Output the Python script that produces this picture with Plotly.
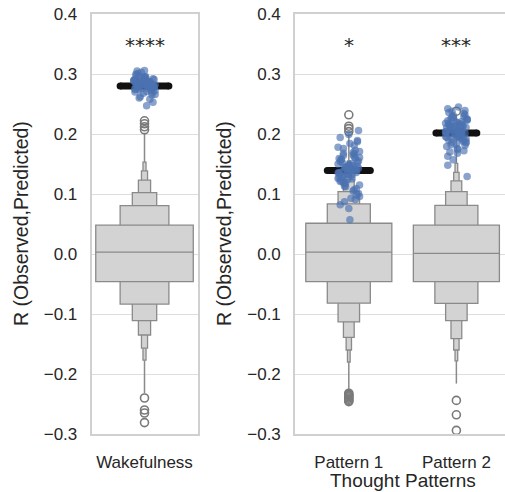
import plotly.graph_objects as go

# category positions
wake_names = ['Wakefulness']
pattern_names = ['Pattern 1', 'Pattern 2']

# observed model fits (strip points)
wake_r = [0.283, 0.279, 0.291, 0.275, 0.286, 0.270, 0.295, 0.281, 0.288, 0.277, 0.300, 0.284, 0.268, 0.292,
          0.279, 0.287, 0.274, 0.296, 0.282, 0.289, 0.271, 0.285, 0.278, 0.303, 0.280, 0.276, 0.293, 0.265,
          0.287, 0.283, 0.298, 0.273, 0.290, 0.281, 0.262, 0.286, 0.279, 0.294, 0.272, 0.288, 0.284, 0.305,
          0.277, 0.282, 0.258, 0.291, 0.285, 0.269, 0.297, 0.280, 0.283, 0.275, 0.289, 0.253, 0.286, 0.278,
          0.301, 0.282, 0.266, 0.290, 0.247, 0.284, 0.279, 0.293, 0.287, 0.274, 0.306, 0.281, 0.260, 0.288]
p1_r = [0.140, 0.128, 0.155, 0.112, 0.167, 0.135, 0.149, 0.098, 0.176, 0.142, 0.121, 0.160, 0.133, 0.187,
        0.145, 0.105, 0.152, 0.138, 0.171, 0.126, 0.093, 0.158, 0.143, 0.118, 0.181, 0.136, 0.147, 0.109,
        0.164, 0.131, 0.194, 0.141, 0.124, 0.153, 0.087, 0.169, 0.137, 0.148, 0.115, 0.178, 0.132, 0.157,
        0.101, 0.144, 0.162, 0.127, 0.199, 0.139, 0.119, 0.151, 0.082, 0.173, 0.134, 0.146, 0.113, 0.165,
        0.129, 0.184, 0.096, 0.150, 0.139, 0.122, 0.206, 0.143, 0.107, 0.159, 0.076, 0.136, 0.168, 0.125,
        0.154, 0.091, 0.141, 0.189, 0.117, 0.147, 0.130, 0.057, 0.161, 0.135]
p2_r = [0.205, 0.218, 0.192, 0.227, 0.199, 0.211, 0.183, 0.234, 0.206, 0.196, 0.222, 0.188, 0.214, 0.201,
        0.238, 0.193, 0.209, 0.176, 0.225, 0.203, 0.197, 0.216, 0.185, 0.231, 0.207, 0.194, 0.220, 0.172,
        0.212, 0.200, 0.242, 0.190, 0.208, 0.181, 0.228, 0.198, 0.215, 0.168, 0.223, 0.204, 0.195, 0.236,
        0.187, 0.210, 0.202, 0.179, 0.219, 0.191, 0.226, 0.206, 0.163, 0.213, 0.199, 0.232, 0.186, 0.217,
        0.201, 0.174, 0.224, 0.196, 0.245, 0.189, 0.211, 0.157, 0.221, 0.203, 0.194, 0.229, 0.182, 0.208,
        0.148, 0.214, 0.200, 0.239, 0.192, 0.216, 0.170, 0.205, 0.129, 0.218]

# mean of observed fits (black bars)
wake_mean = [0.280]
pattern_means = [0.139, 0.2015]

# null distribution letter values (innermost level first)
wake_lv_lo = [-0.046, -0.0835, -0.111, -0.135, -0.157, -0.177]
wake_lv_hi = [0.048, 0.0806, 0.1023, 0.123, 0.1386, 0.153]
p1_lv_lo = [-0.046, -0.082, -0.113, -0.139, -0.160, -0.180]
p1_lv_hi = [0.0513, 0.0835, 0.104, 0.124, 0.140, 0.155]
p2_lv_lo = [-0.046, -0.0824, -0.111, -0.141, -0.160, -0.178]
p2_lv_hi = [0.048, 0.081, 0.104, 0.122, 0.136, 0.151]
null_medians = [0.003, 0.003, 0.001]
null_tails = [(-0.232, 0.202), (-0.228, 0.200), (-0.216, 0.232)]
wake_outliers = [0.207, 0.212, 0.217, 0.222, -0.240, -0.260, -0.265, -0.281]
p1_outliers = [0.204, 0.209, 0.213, 0.232, -0.232, -0.234, -0.236, -0.238, -0.240, -0.242, -0.244, -0.246]
p2_outliers = [0.238, -0.244, -0.268, -0.294]

stars = ['****', '*', '***']

# jitter offsets for the strip points
jitter = [0.02, -0.07, 0.09, -0.03, 0.05, -0.09, 0.00, 0.07, -0.05, 0.03,
          -0.08, 0.06, -0.01, 0.08, -0.04, 0.04, -0.06, 0.01, 0.10, -0.10]

BLUE = '#4C72B0'
BOX_FILL = '#d3d3d3'
BOX_EDGE = '#8a8a8a'
TXT = '#262626'
FONT = 'Liberation Sans, Arial, sans-serif'

fig = go.Figure()


def add_group(xpos, lo, hi, med, tail, outliers, mean, vals, max_w, mean_w, xa, ya):
    # thin tails beyond the outermost boxes (bars are drawn below scatter, so keep them off the boxes)
    fig.add_trace(go.Scatter(x=[xpos, xpos, None, xpos, xpos], y=[tail[0], lo[-1], None, hi[-1], tail[1]],
                             mode='lines', line=dict(color=BOX_EDGE, width=1.5),
                             xaxis=xa, yaxis=ya, hoverinfo='skip'))
    # letter-value boxes, narrowest (outermost) first so wider ones sit on top
    for k in reversed(range(len(lo))):
        w = max_w / (2 ** k)
        fig.add_trace(go.Bar(x=[xpos], y=[hi[k] - lo[k]], base=[lo[k]], width=[w],
                             marker=dict(color=BOX_FILL, line=dict(color=BOX_EDGE, width=1.3)),
                             xaxis=xa, yaxis=ya, hoverinfo='skip'))
    fig.add_trace(go.Scatter(x=[xpos - max_w / 2, xpos + max_w / 2], y=[med, med], mode='lines',
                             line=dict(color=BOX_EDGE, width=1.3), xaxis=xa, yaxis=ya, hoverinfo='skip'))
    fig.add_trace(go.Scatter(x=[xpos] * len(outliers), y=outliers, mode='markers',
                             marker=dict(symbol='circle-open', size=8, color='#7a7a7a', line=dict(width=1.6)),
                             xaxis=xa, yaxis=ya, hoverinfo='skip'))
    # observed mean, round-ish ends
    fig.add_trace(go.Scatter(x=[xpos - mean_w / 2, xpos + mean_w / 2], y=[mean, mean], mode='lines+markers',
                             line=dict(color='#111111', width=7), marker=dict(color='#111111', size=7),
                             xaxis=xa, yaxis=ya, hoverinfo='skip'))
    xs = [xpos + jitter[i % len(jitter)] for i in range(len(vals))]
    fig.add_trace(go.Scatter(x=xs, y=vals, mode='markers',
                             marker=dict(size=7.5, color=BLUE, opacity=0.65, line=dict(width=0)),
                             xaxis=xa, yaxis=ya, hoverinfo='skip'))


add_group(0, wake_lv_lo, wake_lv_hi, null_medians[0], null_tails[0], wake_outliers, wake_mean[0], wake_r,
          0.92, 0.46, 'x', 'y')
add_group(0, p1_lv_lo, p1_lv_hi, null_medians[1], null_tails[1], p1_outliers, pattern_means[0], p1_r,
          0.80, 0.40, 'x2', 'y2')
add_group(1, p2_lv_lo, p2_lv_hi, null_medians[2], null_tails[2], p2_outliers, pattern_means[1], p2_r,
          0.80, 0.38, 'x2', 'y2')

axis_common = dict(showline=True, linecolor='#d0d0d0', linewidth=1.6, zeroline=False, ticks='',
                   automargin=False, tickfont=dict(family=FONT, size=17, color=TXT))
yaxis_common = dict(axis_common, range=[-0.3, 0.4], dtick=0.1, tick0=0, tickformat='.1f',
                    showgrid=True, gridcolor='#dddddd', gridwidth=1.3, domain=[0.1179, 0.9715],
                    ticklabelstandoff=9)

fig.update_layout(
    width=505, height=492,
    margin=dict(l=0, r=0, t=0, b=0),
    paper_bgcolor='white', plot_bgcolor='white',
    showlegend=False, barmode='overlay',
    xaxis=dict(axis_common, domain=[0.1812, 0.3911], range=[-0.5, 0.5], mirror=True, showgrid=False,
               tickvals=[0], ticktext=wake_names, anchor='y', ticklabelstandoff=12),
    yaxis=dict(yaxis_common, mirror=True, anchor='x'),
    xaxis2=dict(axis_common, domain=[0.5842, 1.0], range=[-0.5, 1.452], mirror=True, showgrid=False,
                tickvals=[0, 1], ticktext=pattern_names, anchor='y2', ticklabelstandoff=12),
    yaxis2=dict(yaxis_common, mirror=False, anchor='x2'),
)

# significance stars
star_pos = [('x', 'y', 0), ('x2', 'y2', 0), ('x2', 'y2', 1)]
for (xr, yr, xp), s in zip(star_pos, stars):
    fig.add_annotation(x=xp, y=0.349, xref=xr, yref=yr, text=s, showarrow=False,
                       xanchor='center', yanchor='middle',
                       font=dict(family='DejaVu Sans', size=20, color=TXT))

# axis titles
for xp in [21 / 505, 224 / 505]:
    fig.add_annotation(x=xp, y=(0.1179 + 0.9715) / 2, xref='paper', yref='paper',
                       text='R (Observed,Predicted)', textangle=-90, showarrow=False,
                       xanchor='center', yanchor='middle',
                       font=dict(family=FONT, size=19.5, color=TXT))
fig.add_annotation(x=0.5, y=12 / 492, xref='x2', yref='paper', text='Thought Patterns',
                   showarrow=False, xanchor='center', yanchor='middle',
                   font=dict(family=FONT, size=19, color=TXT))

fig.write_html("out.html", config={'displayModeBar': False},
               post_script="document.body.style.margin='0px';")
